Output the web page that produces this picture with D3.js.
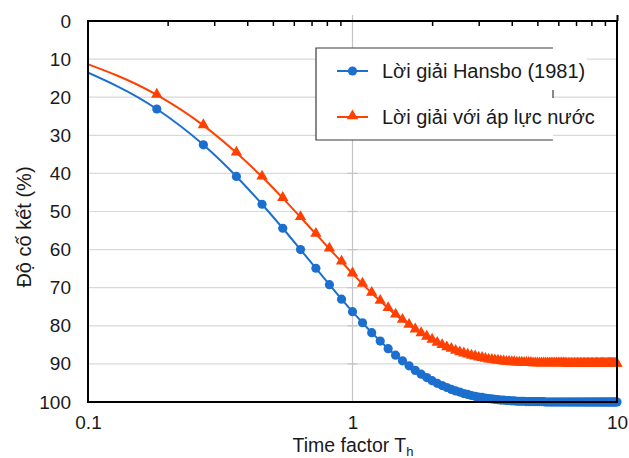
<!DOCTYPE html>
<html>
<head>
<meta charset="utf-8">
<script src="https://cdn.jsdelivr.net/npm/d3@7"></script>
<style>
  body { margin: 0; background: #fff; }
  svg text { font-family: "Liberation Sans", Arial, sans-serif; }
</style>
</head>
<body>
<div id="chart"></div>
<script>
"use strict";

// time factor Th of each computed point
const timeFactor = [
  0.091, 0.182, 0.273, 0.364, 0.455, 0.545, 0.636, 0.727, 0.818, 0.909, 1.000,
  1.091, 1.182, 1.273, 1.364, 1.455, 1.545, 1.636, 1.727, 1.818, 1.909, 2.000,
  2.091, 2.182, 2.273, 2.364, 2.455, 2.545, 2.636, 2.727, 2.818, 2.909, 3.000,
  3.091, 3.182, 3.273, 3.364, 3.455, 3.545, 3.636, 3.727, 3.818, 3.909, 4.000,
  4.091, 4.182, 4.273, 4.364, 4.455, 4.545, 4.636, 4.727, 4.818, 4.909, 5.000,
  5.091, 5.182, 5.273, 5.364, 5.455, 5.545, 5.636, 5.727, 5.818, 5.909, 6.000,
  6.091, 6.182, 6.273, 6.364, 6.455, 6.545, 6.636, 6.727, 6.818, 6.909, 7.000,
  7.091, 7.182, 7.273, 7.364, 7.455, 7.545, 7.636, 7.727, 7.818, 7.909, 8.000,
  8.091, 8.182, 8.273, 8.364, 8.455, 8.545, 8.636, 8.727, 8.818, 8.909, 9.000,
  9.091, 9.182, 9.273, 9.364, 9.455, 9.545, 9.636, 9.727, 9.818, 9.909, 10.000
];

// Lời giải Hansbo (1981)
const hansbo = [
  12.3, 23.1, 32.5, 40.8, 48.1, 54.4, 60.0, 64.9, 69.2, 73.0, 76.3,
  79.2, 81.8, 84.0, 86.0, 87.7, 89.2, 90.5, 91.7, 92.7, 93.6, 94.4,
  95.1, 95.7, 96.2, 96.7, 97.1, 97.4, 97.8, 98.0, 98.3, 98.5, 98.7,
  98.8, 99.0, 99.1, 99.2, 99.3, 99.4, 99.5, 99.5, 99.6, 99.6, 99.7,
  99.7, 99.8, 99.8, 99.8, 99.8, 99.9, 99.9, 99.9, 99.9, 99.9, 99.9,
  99.9, 99.9, 99.9, 100, 100, 100, 100, 100, 100, 100, 100,
  100, 100, 100, 100, 100, 100, 100, 100, 100, 100, 100,
  100, 100, 100, 100, 100, 100, 100, 100, 100, 100, 100,
  100, 100, 100, 100, 100, 100, 100, 100, 100, 100, 100,
  100, 100, 100, 100, 100, 100, 100, 100, 100, 100, 100
];

// Lời giải với áp lực nước
const withWater = [
  10.3, 19.4, 27.4, 34.6, 40.9, 46.5, 51.5, 55.9, 59.8, 63.2, 66.3,
  69.0, 71.4, 73.5, 75.4, 77.1, 78.5, 79.8, 81.0, 82.0, 82.9, 83.7,
  84.5, 85.1, 85.7, 86.1, 86.6, 87.0, 87.3, 87.6, 87.9, 88.1, 88.4,
  88.5, 88.7, 88.9, 89.0, 89.1, 89.2, 89.3, 89.4, 89.5, 89.5, 89.6,
  89.6, 89.7, 89.7, 89.7, 89.8, 89.8, 89.8, 89.8, 89.9, 89.9, 89.9,
  89.9, 89.9, 89.9, 89.9, 89.9, 89.9, 89.9, 89.9, 89.9, 89.9, 89.9,
  89.9, 89.9, 89.9, 89.9, 90, 90, 90, 90, 90, 90, 90,
  90, 90, 90, 90, 90, 90, 90, 90, 90, 90, 90,
  90, 90, 90, 90, 90, 90, 90, 90, 90, 90, 90,
  90, 90, 90, 90, 90, 90, 90, 90, 90, 90, 90
];

const seriesNames = ["Lời giải Hansbo (1981)", "Lời giải với áp lực nước"];
const xTickLabels = [0.1, 1, 10];
const xMinorTicks = [0.2, 0.3, 0.4, 0.5, 0.6, 0.7, 0.8, 0.9, 2, 3, 4, 5, 6, 7, 8, 9];
const yTicks = [0, 10, 20, 30, 40, 50, 60, 70, 80, 90, 100];

const msm = { width: 629, height: 458, left: 88, right: 617, top: 21, bottom: 402 };
const colors = ["#1b6fce", "#ff4000"];

const svg = d3.select("#chart").append("svg")
    .attr("width", msm.width)
    .attr("height", msm.height);

const x = d3.scaleLog().domain([0.1, 10]).range([msm.left, msm.right]);
const y = d3.scaleLinear().domain([0, 100]).range([msm.top, msm.bottom]);

// horizontal grid
svg.append("g")
    .selectAll("line")
    .data(yTicks.slice(1, -1))
    .join("line")
    .attr("x1", msm.left).attr("x2", msm.right)
    .attr("y1", d => y(d)).attr("y2", d => y(d))
    .attr("stroke", "#d9d9d9")
    .attr("stroke-width", 1.2);

// vertical line at Th = 1 with small cross ticks
svg.append("line")
    .attr("x1", x(1)).attr("x2", x(1))
    .attr("y1", msm.top - 6).attr("y2", msm.bottom + 1)
    .attr("stroke", "#c4c4c4")
    .attr("stroke-width", 1.2);
svg.append("g")
    .selectAll("line")
    .data(yTicks.slice(1, -1))
    .join("line")
    .attr("x1", x(1) - 5).attr("x2", x(1) + 5)
    .attr("y1", d => y(d)).attr("y2", d => y(d))
    .attr("stroke", "#c4c4c4")
    .attr("stroke-width", 1.2);

// clip so the first point (below 0.1) is cut at the left edge
svg.append("clipPath").attr("id", "clip")
    .append("rect")
    .attr("x", msm.left).attr("y", 0)
    .attr("width", msm.width - msm.left).attr("height", msm.height);

const plot = svg.append("g").attr("clip-path", "url(#clip)");

const line = d3.line()
    .x(d => x(d[0]))
    .y(d => y(d[1]))
    .curve(d3.curveMonotoneX);

const series = [hansbo, withWater].map(vals => timeFactor.map((t, i) => [t, vals[i]]));

series.forEach((pts, si) => {
    plot.append("path")
        .datum(pts)
        .attr("fill", "none")
        .attr("stroke", colors[si])
        .attr("stroke-width", 2)
        .attr("d", line);
});

// markers
plot.append("g")
    .selectAll("circle")
    .data(series[0])
    .join("circle")
    .attr("cx", d => x(d[0]))
    .attr("cy", d => y(d[1]))
    .attr("r", 4.6)
    .attr("fill", colors[0]);

const tri = d3.symbol().type(d3.symbolTriangle).size(56);
plot.append("g")
    .selectAll("path")
    .data(series[1])
    .join("path")
    .attr("transform", d => "translate(" + x(d[0]) + "," + (y(d[1]) - 0.5) + ")")
    .attr("d", tri)
    .attr("fill", colors[1]);

// plot frame
svg.append("rect")
    .attr("x", msm.left).attr("y", msm.top)
    .attr("width", msm.right - msm.left).attr("height", msm.bottom - msm.top)
    .attr("fill", "none")
    .attr("stroke", "#000")
    .attr("stroke-width", 2);

// top minor ticks (inward) and major tick (outward)
svg.append("g")
    .attr("transform", "translate(0," + msm.top + ")")
    .call(d3.axisTop(x).tickValues(xMinorTicks).tickSize(-5).tickFormat(""))
    .call(g => g.select(".domain").remove())
    .call(g => g.selectAll("line").attr("stroke", "#000").attr("stroke-width", 1.5));

svg.append("g")
    .attr("transform", "translate(0," + msm.top + ")")
    .call(d3.axisTop(x).tickValues([10]).tickSize(6).tickFormat(""))
    .call(g => g.select(".domain").remove())
    .call(g => g.selectAll("line").attr("stroke", "#000").attr("stroke-width", 2));

// x tick labels
svg.append("g")
    .attr("transform", "translate(0," + msm.bottom + ")")
    .call(d3.axisBottom(x).tickValues(xTickLabels).tickSize(0).tickPadding(14)
        .tickFormat(d => String(d)))
    .call(g => g.select(".domain").remove())
    .call(g => g.selectAll("text")
        .attr("font-size", 19)
        .attr("font-family", "Liberation Sans, Arial, sans-serif")
        .attr("fill", "#1a1a1a"));

// y tick labels
svg.append("g")
    .attr("transform", "translate(" + msm.left + ",0)")
    .call(d3.axisLeft(y).tickValues(yTicks).tickSize(0).tickPadding(17))
    .call(g => g.select(".domain").remove())
    .call(g => g.selectAll("text")
        .attr("font-size", 19)
        .attr("font-family", "Liberation Sans, Arial, sans-serif")
        .attr("fill", "#1a1a1a"));

// axis titles
const xTitle = svg.append("text")
    .attr("x", 353)
    .attr("y", 452)
    .attr("text-anchor", "middle")
    .attr("font-size", 19.5)
    .attr("fill", "#1a1a1a");
xTitle.append("tspan").text("Time factor T");
xTitle.append("tspan").attr("font-size", 13).attr("dy", 4).text("h");

svg.append("text")
    .attr("transform", "translate(31,227) rotate(-90)")
    .attr("text-anchor", "middle")
    .attr("font-size", 20)
    .attr("fill", "#1a1a1a")
    .text("Độ cố kết (%)");

// legend
const lg = svg.append("g");
lg.append("rect")
    .attr("x", 316).attr("y", 48)
    .attr("width", 237).attr("height", 92)
    .attr("fill", "#fff");
lg.append("rect").attr("x", 553).attr("y", 49).attr("width", 34).attr("height", 40).attr("fill", "#fff");
lg.append("rect").attr("x", 553).attr("y", 100).attr("width", 34).attr("height", 34).attr("fill", "#fff");
lg.append("path")
    .attr("d", "M553,48H316V140H553M553,90V98")
    .attr("fill", "none")
    .attr("stroke", "#3a3a3a")
    .attr("stroke-width", 1.2);

const legendY = [71, 117];
seriesNames.forEach((name, i) => {
    lg.append("line")
        .attr("x1", 337).attr("x2", 368)
        .attr("y1", legendY[i]).attr("y2", legendY[i])
        .attr("stroke", colors[i])
        .attr("stroke-width", 2);
    if (i === 0) {
        lg.append("circle").attr("cx", 352.5).attr("cy", legendY[i]).attr("r", 4.6).attr("fill", colors[i]);
    } else {
        lg.append("path")
            .attr("transform", "translate(352.5," + (legendY[i] - 1) + ")")
            .attr("d", tri)
            .attr("fill", colors[i]);
    }
    lg.append("text")
        .attr("x", 382)
        .attr("y", legendY[i] + 7)
        .attr("font-size", 20)
        .attr("fill", "#1a1a1a")
        .text(name);
});
</script>
</body>
</html>
